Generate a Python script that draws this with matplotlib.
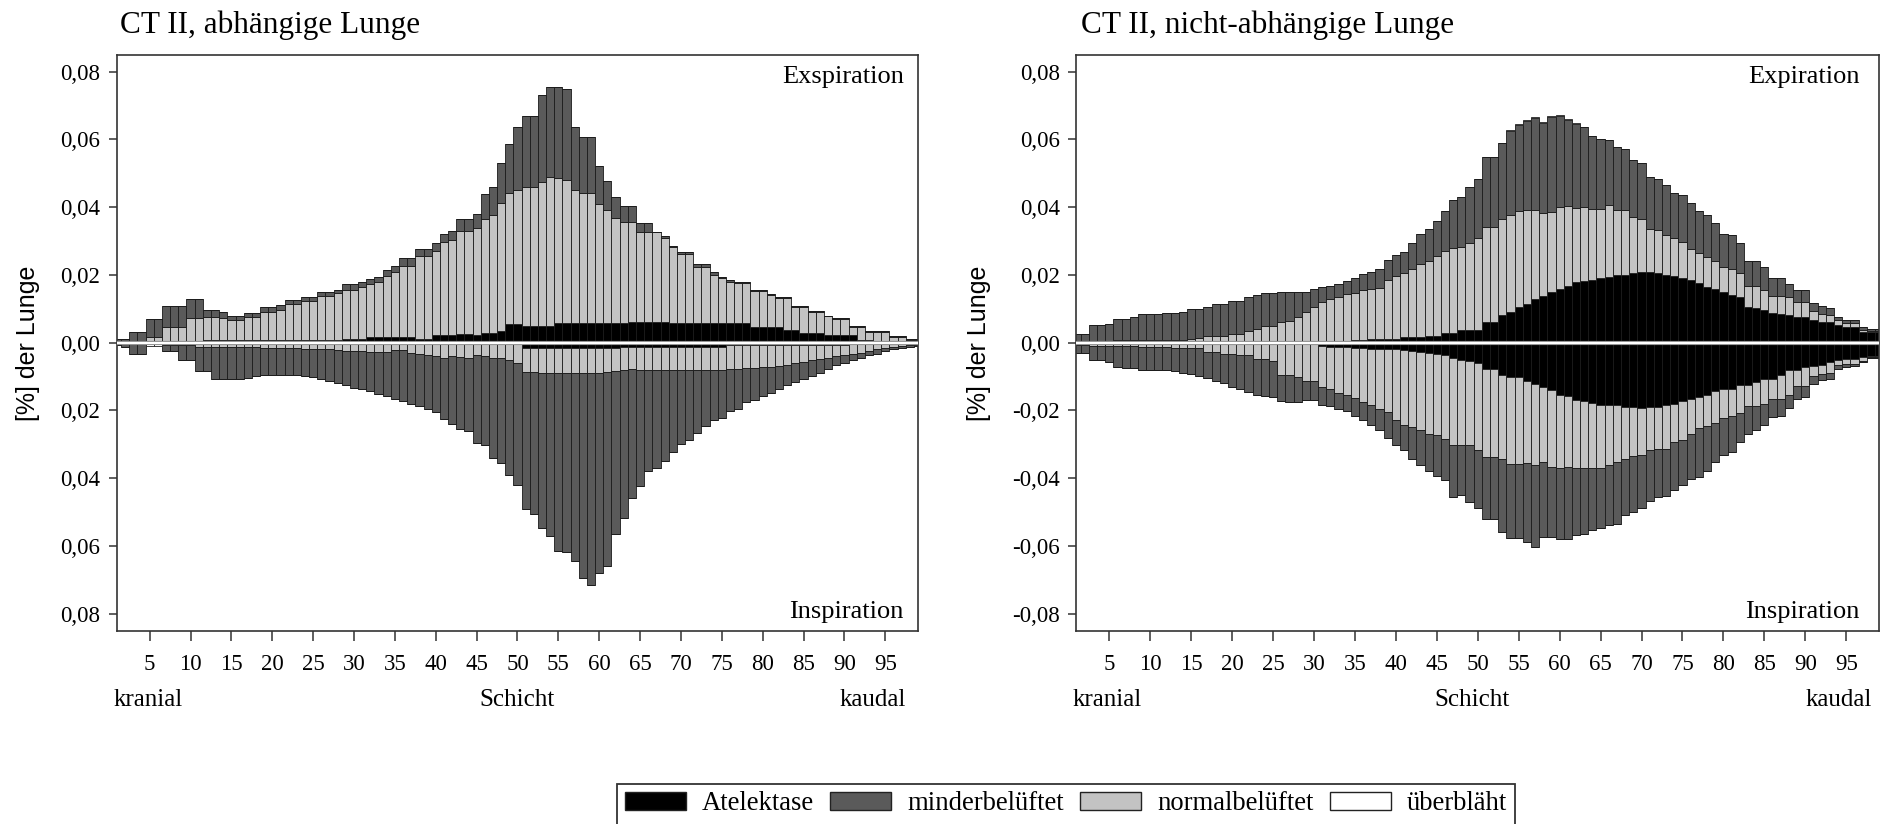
import numpy as np
import matplotlib.pyplot as plt
from matplotlib.patches import Patch

plt.rcParams['font.family'] = ['Liberation Serif', 'DejaVu Serif']

slices = np.arange(1, 100)
xticks = list(range(5, 100, 5))
yticks = [-0.08, -0.06, -0.04, -0.02, 0.0, 0.02, 0.04, 0.06, 0.08]
yticklabels_left = ["0,08", "0,06", "0,04", "0,02", "0,00", "0,02", "0,04", "0,06", "0,08"]
yticklabels_right = ["-0,08", "-0,06", "-0,04", "-0,02", "0,00", "0,02", "0,04", "0,06", "0,08"]
categories = ["Atelektase", "minderbelüftet", "normalbelüftet", "überbläht"]

# --- CT II, abhängige Lunge: Exspiration (nach oben) ---
dep_exp_atel = [0, 0, 0, 0, 0, 0, 0, 0, 0, 0,
                .0003, .0007, .0007, .0007, .0007, .0007, .0007, .0007, .0007, .0007,
                .0007, .0007, .0007, .0007, .0007, .0007, .0007, .0007, .0012, .0012,
                .0012, .0018, .0018, .0018, .0017, .0017, .0017, .0012, .0012, .0022,
                .0022, .0022, .0027, .0027, .0023, .0030, .0030, .0034, .0055, .0055,
                .0050, .0050, .0050, .0050, .0057, .0057, .0057, .0057, .0057, .0057,
                .0057, .0057, .0057, .0062, .0062, .0062, .0062, .0062, .0057, .0057,
                .0057, .0057, .0057, .0057, .0057, .0057, .0057, .0057, .0047, .0047,
                .0047, .0047, .0037, .0037, .0030, .0030, .0030, .0023, .0023, .0023,
                .0023, .0008, .0008, 0, 0, 0, 0, 0, 0]
dep_exp_norm = [.0003, .0003, .0005, .0005, .0018, .0018, .0047, .0047, .0047, .0072,
                .0069, .0070, .0070, .0065, .0060, .0060, .0068, .0068, .0085, .0085,
                .0089, .0106, .0106, .0117, .0117, .0132, .0132, .0139, .0145, .0145,
                .0153, .0154, .0160, .0179, .0192, .0210, .0210, .0244, .0244, .0250,
                .0274, .0280, .0304, .0304, .0317, .0336, .0347, .0377, .0386, .0395,
                .0410, .0410, .0425, .0438, .0428, .0423, .0393, .0386, .0386, .0353,
                .0335, .0310, .0300, .0295, .0264, .0264, .0264, .0246, .0225, .0204,
                .0204, .0167, .0167, .0143, .0133, .0123, .0118, .0118, .0107, .0107,
                .0094, .0084, .0094, .0069, .0076, .0062, .0062, .0055, .0046, .0046,
                .0024, .0039, .0024, .0032, .0032, .0018, .0018, .0008, .0008]
dep_exp_mind = [.0007, .0007, .0027, .0027, .0052, .0052, .0062, .0062, .0062, .0056,
                .0056, .0019, .0019, .0018, .0013, .0013, .0012, .0012, .0012, .0012,
                .0015, .0013, .0013, .0012, .0012, .0012, .0012, .0011, .0015, .0015,
                .0015, .0016, .0017, .0018, .0017, .0023, .0023, .0021, .0021, .0022,
                .0025, .0027, .0035, .0035, .0040, .0072, .0083, .0121, .0145, .0187,
                .0210, .0210, .0255, .0266, .0269, .0268, .0188, .0163, .0163, .0113,
                .0085, .0064, .0047, .0047, .0026, .0026, .0002, .0008, .0003, .0008,
                .0008, .0008, .0008, .0008, .0005, .0005, .0005, .0005, .0001, .0001,
                .0002, .0003, .0003, .0002, .0002, .0002, .0002, .0002, .0003, .0003,
                .0002, .0002, .0002, .0002, .0002, .0002, .0002, .0002, .0002]
dep_exp_ueber = [0] * 99  # nicht sichtbar

# --- CT II, abhängige Lunge: Inspiration (nach unten) ---
dep_ins_atel = [0, 0, 0, 0, 0, 0, 0, 0, 0, 0,
                0, 0, 0, 0, 0, 0, 0, 0, 0, .0003,
                .0003, .0003, .0003, .0003, .0003, .0003, .0003, .0003, .0003, .0003,
                .0003, .0003, .0003, .0003, .0003, .0003, .0003, .0003, .0003, .0003,
                .0003, .0003, .0003, .0003, .0003, .0003, .0003, .0003, .0003, .0003,
                .0017, .0017, .0017, .0017, .0017, .0017, .0017, .0017, .0017, .0017,
                .0017, .0017, .0012, .0012, .0012, .0012, .0012, .0012, .0012, .0012,
                .0012, .0012, .0012, .0012, .0012, .0007, .0007, .0007, .0007, .0007,
                .0007, .0007, .0007, .0007, .0007, .0007, .0007, .0007, .0007, .0007,
                .0003, .0003, .0003, .0003, .0003, 0, 0, 0, 0]
dep_ins_norm = [.0003, .0003, .0004, .0004, .0002, .0002, .0006, .0006, .0008, .0008,
                .0012, .0012, .0013, .0013, .0013, .0013, .0014, .0014, .0015, .0012,
                .0012, .0014, .0014, .0015, .0015, .0017, .0017, .0019, .0021, .0021,
                .0022, .0023, .0025, .0025, .0019, .0019, .0027, .0030, .0032, .0037,
                .0042, .0037, .0039, .0042, .0032, .0037, .0042, .0042, .0047, .0057,
                .0070, .0070, .0072, .0072, .0072, .0072, .0072, .0072, .0072, .0072,
                .0069, .0067, .0068, .0067, .0069, .0069, .0069, .0069, .0069, .0069,
                .0069, .0069, .0069, .0069, .0068, .0071, .0071, .0069, .0067, .0066,
                .0064, .0062, .0058, .0053, .0049, .0044, .0040, .0037, .0033, .0030,
                .0030, .0027, .0022, .0017, .0012, .0012, .0010, .0008, .0006]
dep_ins_mind = [.0005, .0009, .0028, .0028, .0002, .0002, .0019, .0019, .0042, .0042,
                .0073, .0073, .0093, .0093, .0095, .0095, .0090, .0085, .0081, .0079,
                .0079, .0077, .0078, .0079, .0084, .0086, .0092, .0096, .0102, .0109,
                .0113, .0117, .0122, .0130, .0143, .0150, .0150, .0154, .0161, .0165,
                .0180, .0201, .0214, .0216, .0261, .0263, .0295, .0310, .0342, .0359,
                .0403, .0420, .0458, .0482, .0527, .0530, .0556, .0606, .0625, .0591,
                .0574, .0480, .0437, .0379, .0343, .0298, .0288, .0269, .0242, .0219,
                .0205, .0185, .0165, .0146, .0142, .0124, .0117, .0099, .0095, .0085,
                .0077, .0067, .0061, .0056, .0050, .0048, .0042, .0033, .0027, .0022,
                .0018, .0014, .0012, .0012, .0010, .0008, .0005, .0004, .0004]
dep_ins_ueber = [0, 0, 0, 0, .0005, .0005] + [0] * 93

# --- CT II, nicht-abhängige Lunge: Exspiration ---
ndep_exp_atel = [0, 0, 0, 0, 0, 0, 0, 0, 0, 0,
                 0, 0, 0, 0, 0, 0, 0, 0, 0, 0,
                 0, 0, 0, 0, 0, 0, 0, 0, 0, .0003,
                 .0005, .0005, .0005, .0005, .0007, .0007, .0010, .0010, .0010, .0010,
                 .0016, .0016, .0016, .0020, .0020, .0030, .0030, .0037, .0037, .0037,
                 .0062, .0062, .0082, .0092, .0106, .0114, .0128, .0138, .0150, .0160,
                 .0167, .0180, .0183, .0185, .0190, .0195, .0200, .0200, .0205, .0210,
                 .0210, .0207, .0200, .0197, .0190, .0185, .0175, .0165, .0158, .0150,
                 .0140, .0134, .0106, .0101, .0096, .0087, .0085, .0082, .0077, .0077,
                 .0067, .0062, .0062, .0052, .0047, .0047, .0032, .0032, .0032]
ndep_exp_norm = [.0003, .0003, .0003, .0003, .0003, .0008, .0008, .0008, .0008, .0008,
                 .0008, .0008, .0008, .0008, .0010, .0013, .0020, .0020, .0020, .0025,
                 .0025, .0035, .0039, .0050, .0050, .0062, .0065, .0077, .0090, .0101,
                 .0116, .0123, .0129, .0138, .0139, .0150, .0150, .0152, .0175, .0188,
                 .0191, .0201, .0216, .0221, .0236, .0242, .0250, .0246, .0258, .0271,
                 .0280, .0280, .0282, .0285, .0284, .0278, .0264, .0244, .0237, .0242,
                 .0238, .0217, .0219, .0209, .0204, .0212, .0192, .0192, .0165, .0154,
                 .0127, .0125, .0117, .0111, .0108, .0093, .0089, .0089, .0083, .0074,
                 .0079, .0071, .0061, .0066, .0061, .0051, .0053, .0052, .0042, .0042,
                 .0027, .0023, .0020, .0015, .0010, .0010, .0005, .0003, .0003]
ndep_exp_mind = [.0023, .0023, .0048, .0048, .0051, .0063, .0063, .0067, .0076, .0076,
                 .0076, .0079, .0079, .0082, .0090, .0087, .0086, .0094, .0094, .0099,
                 .0099, .0099, .0102, .0096, .0096, .0087, .0084, .0072, .0059, .0056,
                 .0042, .0039, .0039, .0039, .0044, .0045, .0050, .0055, .0059, .0061,
                 .0060, .0078, .0089, .0094, .0104, .0118, .0141, .0146, .0165, .0174,
                 .0207, .0207, .0227, .0249, .0253, .0263, .0270, .0267, .0278, .0268,
                 .0253, .0249, .0236, .0216, .0206, .0191, .0187, .0179, .0169, .0167,
                 .0153, .0152, .0148, .0134, .0137, .0133, .0125, .0122, .0111, .0098,
                 .0098, .0088, .0073, .0073, .0067, .0052, .0052, .0038, .0036, .0036,
                 .0024, .0023, .0019, .0010, .0010, .0010, .0010, .0004, .0004]
ndep_exp_ueber = [0] * 53 + [.0002, .0003, .0003, .0003, .0003, .0003, .0003, .0003, .0002] + [0] * 37

# --- CT II, nicht-abhängige Lunge: Inspiration ---
ndep_ins_atel = [0, 0, 0, 0, 0, 0, 0, 0, 0, 0,
                 0, 0, 0, 0, 0, 0, 0, 0, 0, 0,
                 0, 0, 0, 0, 0, 0, 0, 0, 0, 0,
                 .0010, .0012, .0013, .0014, .0015, .0017, .0018, .0018, .0019, .0020,
                 .0023, .0025, .0027, .0030, .0033, .0037, .0045, .0052, .0055, .0059,
                 .0077, .0077, .0094, .0101, .0101, .0114, .0121, .0131, .0141, .0154,
                 .0158, .0168, .0173, .0177, .0185, .0185, .0185, .0190, .0190, .0193,
                 .0190, .0190, .0185, .0180, .0173, .0165, .0160, .0155, .0144, .0136,
                 .0136, .0126, .0126, .0116, .0106, .0106, .0096, .0082, .0082, .0072,
                 .0069, .0067, .0057, .0052, .0049, .0049, .0042, .0039, .0039]
ndep_ins_norm = [.0008, .0008, .0010, .0010, .0010, .0010, .0010, .0010, .0013, .0013,
                 .0013, .0013, .0016, .0016, .0016, .0016, .0028, .0028, .0032, .0032,
                 .0037, .0037, .0047, .0047, .0055, .0096, .0096, .0101, .0114, .0114,
                 .0121, .0126, .0135, .0141, .0148, .0158, .0167, .0177, .0186, .0209,
                 .0219, .0224, .0232, .0239, .0239, .0246, .0256, .0249, .0248, .0257,
                 .0261, .0261, .0250, .0256, .0256, .0240, .0239, .0221, .0226, .0216,
                 .0209, .0202, .0197, .0193, .0185, .0177, .0167, .0154, .0145, .0140,
                 .0128, .0123, .0128, .0113, .0115, .0104, .0092, .0091, .0092, .0086,
                 .0079, .0081, .0061, .0071, .0074, .0061, .0069, .0072, .0046, .0056,
                 .0029, .0025, .0031, .0013, .0013, .0013, .0013, .0003, .0003]
ndep_ins_mind = [.0022, .0022, .0042, .0042, .0047, .0062, .0064, .0066, .0067, .0067,
                 .0069, .0069, .0069, .0072, .0076, .0082, .0077, .0085, .0088, .0098,
                 .0100, .0108, .0108, .0111, .0105, .0076, .0078, .0073, .0056, .0056,
                 .0052, .0050, .0049, .0048, .0054, .0054, .0059, .0064, .0076, .0074,
                 .0076, .0095, .0101, .0111, .0122, .0123, .0155, .0150, .0167, .0172,
                 .0182, .0182, .0215, .0220, .0220, .0235, .0243, .0222, .0207, .0209,
                 .0212, .0199, .0194, .0184, .0177, .0177, .0182, .0166, .0165, .0155,
                 .0150, .0143, .0141, .0143, .0133, .0134, .0145, .0134, .0116, .0111,
                 .0108, .0086, .0082, .0072, .0062, .0052, .0050, .0039, .0037, .0032,
                 .0023, .0019, .0018, .0012, .0010, .0007, .0002, .0003, .0003]
ndep_ins_ueber = [0] * 99  # nicht sichtbar

C_ATEL = "#000000"
C_MIND = "#5a5a5a"
C_NORM = "#c3c3c3"
C_UEB = "#ffffff"
EDGE = "#1a1a1a"


def draw_stack(ax, atel, norm, mind, ueber, sign):
    # stack outward from zero: Atelektase, normal, minder, überbläht
    base = np.zeros(len(slices))
    for vals, col in ((atel, C_ATEL), (norm, C_NORM), (mind, C_MIND), (ueber, C_UEB)):
        v = np.asarray(vals, dtype=float) * sign
        ax.bar(slices, v, width=1.0, bottom=base, color=col,
               edgecolor=EDGE, linewidth=0.6, zorder=2)
        base = base + v


def style_axes(ax, ylabels):
    ax.set_xlim(1, 99)
    ax.set_ylim(-0.085, 0.085)
    ax.set_xticks(xticks)
    ax.set_xticklabels([str(t) for t in xticks], fontsize=16.5)
    ax.set_yticks(yticks)
    ax.set_yticklabels(ylabels, fontsize=16.5)
    ax.tick_params(axis="x", direction="out", length=7, width=1.1, pad=10, color="#333333")
    ax.tick_params(axis="y", direction="out", length=6, width=1.1, pad=6, color="#333333")
    for s in ax.spines.values():
        s.set_color("#333333")
        s.set_linewidth(1.2)
    # zero line
    ax.axhline(0, color="#8a8a8a", lw=3.0, zorder=4)
    ax.axhline(0, color="white", lw=1.6, zorder=5)


W, H = 1881, 824
fig = plt.figure(figsize=(W / 100, H / 100), dpi=100)

ax1 = fig.add_axes([117 / W, 1 - 630.6 / H, 801 / W, 575.8 / H])
ax2 = fig.add_axes([1076.5 / W, 1 - 630.6 / H, 802.5 / W, 575.8 / H])

draw_stack(ax1, dep_exp_atel, dep_exp_norm, dep_exp_mind, dep_exp_ueber, 1)
draw_stack(ax1, dep_ins_atel, dep_ins_norm, dep_ins_mind, dep_ins_ueber, -1)
draw_stack(ax2, ndep_exp_atel, ndep_exp_norm, ndep_exp_mind, ndep_exp_ueber, 1)
draw_stack(ax2, ndep_ins_atel, ndep_ins_norm, ndep_ins_mind, ndep_ins_ueber, -1)

style_axes(ax1, yticklabels_left)
style_axes(ax2, yticklabels_right)

# titles
fig.text(120 / W, 1 - 33 / H, "CT II, abhängige Lunge", fontsize=22.5, va="baseline", ha="left")
fig.text(1081 / W, 1 - 33 / H, "CT II, nicht-abhängige Lunge", fontsize=22.5, va="baseline", ha="left")

# phase labels
fig.text(904 / W, 1 - 83 / H, "Exspiration", fontsize=19, va="baseline", ha="right")
fig.text(903 / W, 1 - 618 / H, "Inspiration", fontsize=19, va="baseline", ha="right")
fig.text(1860 / W, 1 - 83 / H, "Expiration", fontsize=19, va="baseline", ha="right")
fig.text(1859 / W, 1 - 618 / H, "Inspiration", fontsize=19, va="baseline", ha="right")

# x-axis annotations
for left, mid, right in ((114, 517, 906), (1073, 1472, 1872)):
    fig.text(left / W, 1 - 706 / H, "kranial", fontsize=18, va="baseline", ha="left")
    fig.text(mid / W, 1 - 706 / H, "Schicht", fontsize=18, va="baseline", ha="center")
    fig.text(right / W, 1 - 706 / H, "kaudal", fontsize=18, va="baseline", ha="right")

# y labels
for xc in (28, 979):
    fig.text(xc / W, 1 - 343 / H, "[%] der Lunge", fontsize=18, rotation=90,
             va="center", ha="center", family=["Liberation Sans", "DejaVu Sans"])

handles = [Patch(facecolor=c, edgecolor="#222222", linewidth=1.0)
           for c in (C_ATEL, C_MIND, C_NORM, C_UEB)]
leg = fig.legend(handles, categories, loc="center", bbox_to_anchor=(1066 / W, 1 - 804 / H),
                 ncol=4, fontsize=19.2, frameon=True, fancybox=False, edgecolor="black",
                 handlelength=2.3, handleheight=0.67, handletextpad=0.6,
                 columnspacing=0.6, borderpad=0.3)
leg.get_frame().set_linewidth(1.3)

fig.savefig("out.png", dpi=100)
